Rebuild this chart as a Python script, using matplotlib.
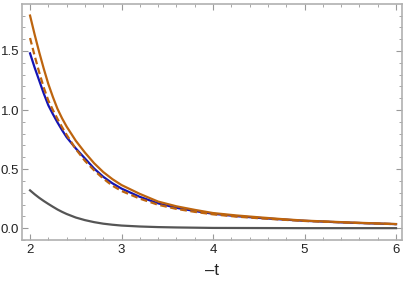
import numpy as np
import matplotlib
matplotlib.use("Agg")
from matplotlib import pyplot as plt
from matplotlib.ticker import MultipleLocator

# values
t = [2.0, 2.05, 2.1, 2.15, 2.2, 2.25, 2.3, 2.35, 2.4, 2.5, 2.6, 2.7, 2.8, 2.9, 3.0,
     3.2, 3.4, 3.6, 3.8, 4.0, 4.25, 4.5, 4.75, 5.0, 5.5, 6.0]
orange = [1.80, 1.64, 1.49, 1.35, 1.22, 1.11, 1.01, 0.93, 0.86, 0.74, 0.64, 0.55, 0.475, 0.415, 0.365,
          0.29, 0.225, 0.185, 0.155, 0.128, 0.108, 0.092, 0.077, 0.064, 0.048, 0.035]
orange_dash = [1.61, 1.46, 1.32, 1.19, 1.08, 1.00, 0.925, 0.855, 0.79, 0.67, 0.57, 0.49, 0.42, 0.36, 0.315,
               0.25, 0.198, 0.163, 0.138, 0.117, 0.098, 0.084, 0.072, 0.061, 0.046, 0.034]
blue = [1.48, 1.36, 1.25, 1.14, 1.04, 0.965, 0.895, 0.83, 0.77, 0.675, 0.59, 0.505, 0.435, 0.38, 0.335,
        0.265, 0.21, 0.172, 0.145, 0.122, 0.102, 0.087, 0.074, 0.062, 0.046, 0.034]
gray = [0.32, 0.287, 0.257, 0.23, 0.205, 0.181, 0.158, 0.138, 0.12, 0.09, 0.068, 0.051, 0.038, 0.029, 0.022,
        0.014, 0.009, 0.006, 0.004, 0.002, 0.0015, 0.001, 0.0005, 0.0, 0.0, 0.0]

plt.rcParams['font.family'] = ['Liberation Sans', 'DejaVu Sans']

fig = plt.figure(figsize=(4.09, 2.85), dpi=100)
ax = fig.add_axes([0.054, 0.158, 0.929, 0.828])

ax.plot(t, blue, color="#1414b4", lw=1.6)
ax.plot(t, orange, color="#bd640e", lw=1.6)
ax.plot(t, orange_dash, color="#bd640e", lw=1.6, ls=(0, (3, 1.6)))
ax.plot(t, gray, color="#555555", lw=1.6)

ax.set_xlim(1.913, 6.066)
ax.set_ylim(-0.10, 1.898)

ax.xaxis.set_major_locator(MultipleLocator(1))
ax.xaxis.set_minor_locator(MultipleLocator(0.2))
ax.yaxis.set_major_locator(MultipleLocator(0.5))
ax.yaxis.set_minor_locator(MultipleLocator(0.1))
ax.yaxis.set_major_formatter(matplotlib.ticker.FormatStrFormatter('%.1f'))

for s in ax.spines.values():
    s.set_color("#b0b0b0")
    s.set_linewidth(1.2)
ax.tick_params(which="both", direction="in", color="#999999", top=True, right=True,
               labelsize=9.5, labelcolor="#222222")
ax.tick_params(which="major", length=4.5, width=0.8, pad=3)
ax.tick_params(axis="y", which="major", pad=2)
ax.tick_params(which="minor", length=2.5, width=0.6)

ax.set_xlabel("\u2013t", fontsize=12, color="#222222", labelpad=5)

plt.savefig("out.png", dpi=100)
